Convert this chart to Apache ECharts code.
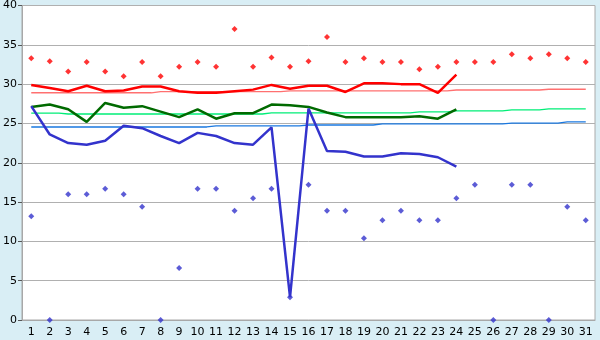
<!DOCTYPE html>
<html>
<head>
<meta charset="utf-8">
<style>
  html, body { margin: 0; padding: 0; background: #d9eef5; }
  #chart { width: 600px; height: 340px; }
</style>
<script src="https://cdn.jsdelivr.net/npm/echarts@6/dist/echarts.min.js"></script>
</head>
<body>
<div id="chart"></div>
<script>
// Days of the month
const days = Array.from({ length: 31 }, (_, i) => String(i + 1));

// Daily highest readings (diamonds, red)
const highPoints = [33.3, 32.9, 31.6, 32.8, 31.6, 31.0, 32.8, 31.0, 32.2, 32.8,
                    32.2, 37.0, 32.2, 33.4, 32.2, 32.9, 36.0, 32.8, 33.3, 32.8,
                    32.8, 31.9, 32.2, 32.8, 32.8, 32.8, 33.8, 33.3, 33.8, 33.3, 32.8];

// Daily lowest readings (diamonds, blue)
const lowPoints = [13.2, 0, 16.0, 16.0, 16.7, 16.0, 14.4, 0, 6.6, 16.7,
                   16.7, 13.9, 15.5, 16.7, 2.9, 17.2, 13.9, 13.9, 10.4, 12.7,
                   13.9, 12.7, 12.7, 15.5, 17.2, 0, 17.2, 17.2, 0, 14.4, 12.7];

// Measured curves, days 1-24
const maxLine = [29.9, 29.5, 29.1, 29.8, 29.1, 29.2, 29.7, 29.7, 29.1, 28.9,
                 28.9, 29.1, 29.3, 29.9, 29.4, 29.8, 29.8, 29.0, 30.1, 30.1,
                 30.0, 30.0, 28.9, 31.2];
const meanLine = [27.1, 27.4, 26.8, 25.2, 27.6, 27.0, 27.2, 26.5, 25.8, 26.8,
                  25.6, 26.3, 26.3, 27.4, 27.3, 27.1, 26.4, 25.8, 25.8, 25.8,
                  25.8, 25.9, 25.6, 26.8];
const minLine = [27.2, 23.6, 22.5, 22.3, 22.8, 24.7, 24.4, 23.4, 22.5, 23.8,
                 23.4, 22.5, 22.3, 24.5, 2.9, 26.9, 21.5, 21.4, 20.8, 20.8,
                 21.2, 21.1, 20.7, 19.5];

// Reference (normal) values for each day
const normMax = [28.9, 28.9, 28.9, 28.9, 28.9, 28.9, 28.9, 29.05, 29.05, 29.05,
                 29.05, 29.05, 29.05, 29.05, 29.15, 29.15, 29.15, 29.15, 29.15, 29.15,
                 29.15, 29.15, 29.15, 29.25, 29.25, 29.25, 29.25, 29.25, 29.35, 29.35, 29.35];
const normMean = [26.3, 26.3, 26.2, 26.2, 26.2, 26.2, 26.2, 26.2, 26.2, 26.2,
                  26.2, 26.2, 26.2, 26.35, 26.35, 26.35, 26.35, 26.35, 26.35, 26.35,
                  26.35, 26.48, 26.48, 26.6, 26.6, 26.6, 26.73, 26.73, 26.86, 26.86, 26.86];
const normMin = [24.55, 24.55, 24.55, 24.55, 24.55, 24.55, 24.55, 24.55, 24.55, 24.55,
                 24.7, 24.7, 24.7, 24.7, 24.7, 24.8, 24.8, 24.8, 24.8, 24.95,
                 24.95, 24.95, 24.95, 24.95, 24.95, 24.95, 25.05, 25.05, 25.05, 25.2, 25.2];

const yTicks = { min: 0, max: 40, step: 5 };

const font = 'DejaVu Sans';

function thinLine(data, color) {
  return {
    type: 'line', data, step: 'middle', showSymbol: false, silent: true,
    lineStyle: { color, width: 1.3 }, z: 2
  };
}
function thickLine(data, color) {
  return {
    type: 'line', data, showSymbol: false, silent: true,
    lineStyle: { color, width: 2.5 }, z: 3
  };
}
function dots(data, color) {
  return {
    type: 'scatter', data, symbol: 'diamond', symbolSize: 6, silent: true,
    itemStyle: { color }, z: 4
  };
}

const chart = echarts.init(document.getElementById('chart'), null, { renderer: 'canvas' });
chart.setOption({
  animation: false,
  backgroundColor: '#d9eef5',
  grid: {
    left: 21, right: 5, top: 5, bottom: 20,
    show: true, backgroundColor: '#ffffff', borderColor: '#aaaaaa', borderWidth: 1
  },
  xAxis: {
    type: 'category', data: days, boundaryGap: true,
    axisLine: { lineStyle: { color: '#a8a8a8' } },
    axisTick: { alignWithLabel: true, length: 5, lineStyle: { color: '#555' } },
    axisLabel: { color: '#000', fontFamily: font, fontSize: 11, margin: 7, interval: 0 },
    splitLine: { show: false }
  },
  yAxis: {
    type: 'value', min: yTicks.min, max: yTicks.max, interval: yTicks.step,
    axisLine: { show: true, lineStyle: { color: '#a8a8a8' } },
    axisTick: { show: true, length: 4, lineStyle: { color: '#555' } },
    axisLabel: { color: '#000', fontFamily: font, fontSize: 11, margin: 5 },
    splitLine: { lineStyle: { color: '#b0b0b0', width: 1 } }
  },
  series: [
    thinLine(normMax, '#ff7070'),
    thinLine(normMean, '#00ee77'),
    thinLine(normMin, '#1a78e0'),
    thickLine(maxLine, '#ff0000'),
    thickLine(meanLine, '#006a00'),
    thickLine(minLine, '#3333cc'),
    dots(highPoints, '#ff0000'),
    dots(lowPoints, '#3333cc')
  ]
});
</script>
</body>
</html>
